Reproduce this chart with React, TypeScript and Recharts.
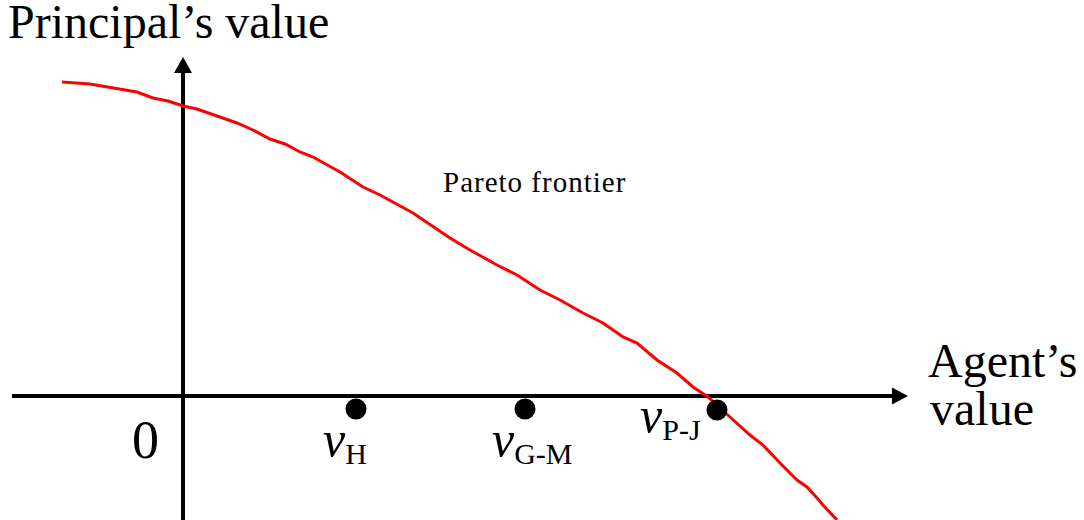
import React from 'react';
import { ComposedChart, Line, Scatter, XAxis, YAxis, ReferenceLine, ReferenceDot } from 'recharts';

// Pareto frontier: agent's value vs principal's value (arbitrary units)
const frontierAgent = [
  -1.21, -0.93, -0.46, -0.3, -0.15, 0, 0.14, 0.54, 0.7, 0.87, 1.02, 1.17, 1.3, 1.57, 1.8, 1.97,
  2.3, 2.67, 2.87, 3.14, 3.34, 3.57, 3.77, 4.0, 4.2, 4.4, 4.54, 4.74, 4.94, 5.1, 5.25, 5.47,
  5.67, 5.8, 5.97, 6.14, 6.24, 6.34, 6.4, 6.54,
];
const frontierPrincipal = [
  3.14, 3.12, 3.04, 2.98, 2.95, 2.9, 2.87, 2.73, 2.66, 2.57, 2.52, 2.44, 2.39, 2.24, 2.09, 2.01,
  1.83, 1.58, 1.46, 1.31, 1.21, 1.06, 0.96, 0.83, 0.73, 0.59, 0.53, 0.36, 0.23, 0.09, -0.01, -0.21,
  -0.39, -0.49, -0.67, -0.84, -0.91, -1.02, -1.09, -1.24,
];

// mechanisms marked on the agent's axis
const mechNames = ['H', 'G-M', 'P-J'];
const mechAgent = [1.73, 3.42, 5.34];
const mechPrincipal = [-0.13, -0.13, -0.14];

const X_DOMAIN: [number, number] = [-1.83, 9.01];
const Y_DOMAIN: [number, number] = [-1.24, 3.96];
const X_AXIS_START = -1.71;
const X_AXIS_END = 7.09;
const X_ARROW_TIP = 7.25;
const Y_AXIS_END = 3.23;
const Y_ARROW_TIP = 3.39;

const FONT = '"Liberation Serif", "Times New Roman", serif';

const frontier = frontierAgent.map((x, i) => ({ x, y: frontierPrincipal[i] }));
const mechanisms = mechNames.map((name, i) => ({ name, x: mechAgent[i], y: mechPrincipal[i] }));

const MechDot = (props: any) => {
  const { cx, cy, payload } = props;
  // P-J sits on the frontier crossing, so its label goes to the left of the dot
  const left = payload.name === 'P-J';
  const tx = left ? cx - 77 : cx - 33;
  const ty = left ? cy + 22 : cy + 47;
  return (
    <g>
      <circle cx={cx} cy={cy} r={10.5} fill="#000" />
      <text x={tx} y={ty} fontFamily={FONT} fill="#000">
        <tspan fontSize={50} fontStyle="italic">v</tspan>
        <tspan fontSize={30} dy={8}>{payload.name}</tspan>
      </text>
    </g>
  );
};

const XArrow = ({ cx, cy }: any) => (
  <g>
    <polygon points={`${cx},${cy} ${cx - 16},${cy - 8.5} ${cx - 16},${cy + 8.5}`} fill="#000" />
    <text x={cx + 20} y={cy - 19} fontFamily={FONT} fontSize={48} fill="#000">Agent’s</text>
    <text x={cx + 22} y={cy + 29} fontFamily={FONT} fontSize={48} fill="#000">value</text>
  </g>
);

const YArrow = ({ cx, cy }: any) => (
  <g>
    <polygon points={`${cx},${cy} ${cx - 9},${cy + 16} ${cx + 9},${cy + 16}`} fill="#000" />
    <text x={cx - 175} y={cy - 19} fontFamily={FONT} fontSize={48} fill="#000">Principal’s value</text>
  </g>
);

const OriginLabel = ({ cx, cy }: any) => (
  <text x={cx - 51} y={cy + 62} fontFamily={FONT} fontSize={54} fill="#000">0</text>
);

const FrontierLabel = ({ cx, cy }: any) => (
  <text x={cx} y={cy} fontFamily={FONT} fontSize={29} letterSpacing={1} fill="#000">Pareto frontier</text>
);

export default function App() {
  return (
    <div style={{ position: 'absolute', left: 0, top: 0, background: '#fff' }}>
      <ComposedChart width={1084} height={520} margin={{ top: 0, right: 0, bottom: 0, left: 0 }}>
        <XAxis type="number" dataKey="x" domain={X_DOMAIN} allowDataOverflow hide />
        <YAxis type="number" dataKey="y" domain={Y_DOMAIN} allowDataOverflow hide />
        <ReferenceLine
          segment={[{ x: X_AXIS_START, y: 0 }, { x: X_AXIS_END, y: 0 }]}
          stroke="#000"
          strokeWidth={4}
          ifOverflow="visible"
        />
        <ReferenceLine
          segment={[{ x: 0, y: Y_DOMAIN[0] }, { x: 0, y: Y_AXIS_END }]}
          stroke="#000"
          strokeWidth={4}
          ifOverflow="visible"
        />
        <ReferenceDot x={X_ARROW_TIP} y={0} ifOverflow="visible" shape={XArrow} />
        <ReferenceDot x={0} y={Y_ARROW_TIP} ifOverflow="visible" shape={YArrow} />
        <ReferenceDot x={0} y={0} ifOverflow="visible" shape={OriginLabel} />
        <ReferenceDot x={2.6} y={2.04} ifOverflow="visible" shape={FrontierLabel} />
        <Scatter data={mechanisms} shape={MechDot} isAnimationActive={false} />
        <Line
          data={frontier}
          dataKey="y"
          type="linear"
          stroke="#ff0000"
          strokeWidth={3}
          dot={false}
          activeDot={false}
          isAnimationActive={false}
        />
      </ComposedChart>
    </div>
  );
}
